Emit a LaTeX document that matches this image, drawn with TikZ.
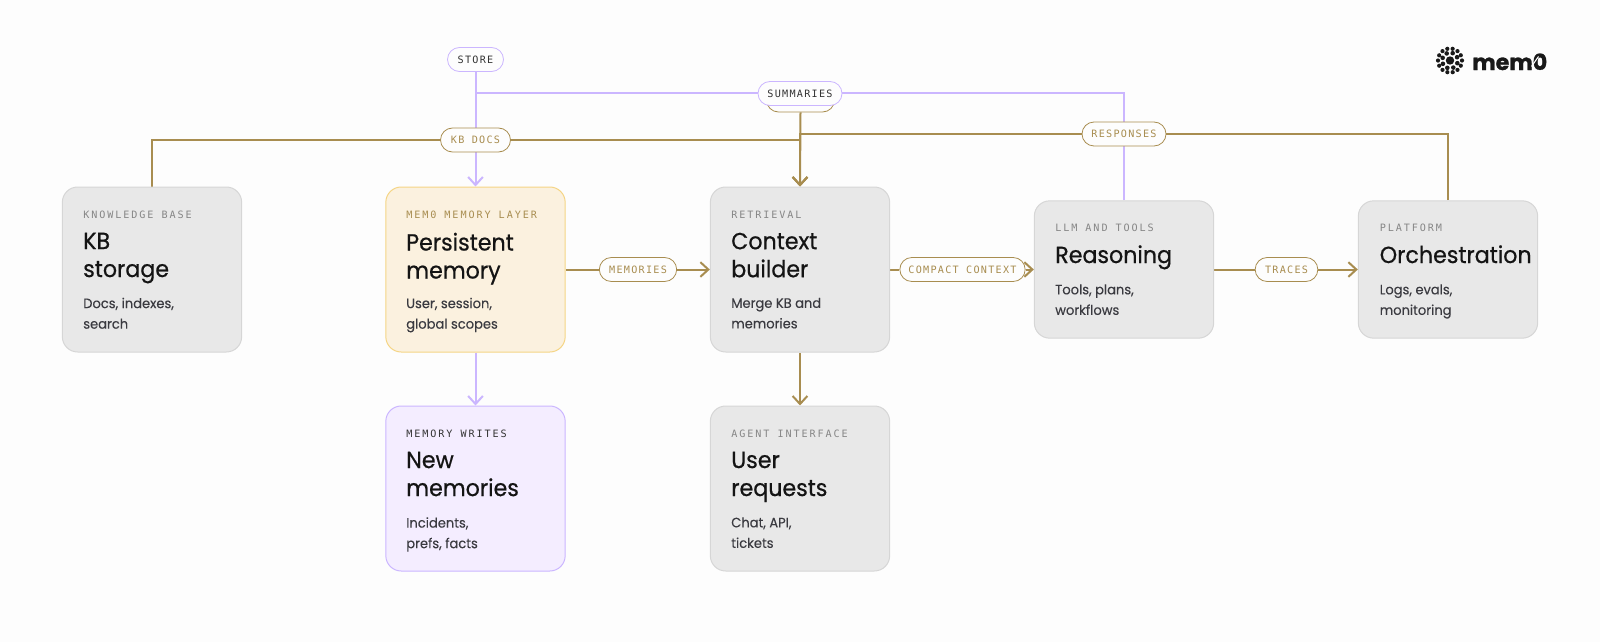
\documentclass[tikz,border=0pt]{standalone}
\usepackage{fontspec}
\setmainfont{Poppins}
\newfontfamily\tagfam{DejaVu Sans Mono}[LetterSpace=19]
\newfontfamily\pillfam{DejaVu Sans Mono}[LetterSpace=12.6]
\newfontfamily\sansfam{Poppins}[FakeStretch=0.96,FakeBold=0.2]
\newfontfamily\headfam{Poppins}[FakeStretch=0.95,FakeBold=0.6]
\newfontfamily\logofam{Poppins}[BoldFeatures={FakeBold=1.2}]
\usetikzlibrary{arrows.meta}
\pgfdeclarelayer{page}
\pgfdeclarelayer{lines}
\pgfsetlayers{page,lines,main}
\definecolor{pagebg}{HTML}{FDFDFD}
\definecolor{flowbrown}{HTML}{A88D50}
\definecolor{flowviolet}{HTML}{CBB6FF}
\definecolor{cardgrey}{HTML}{E8E8E8}
\definecolor{cardline}{HTML}{D6D6D6}
\definecolor{cardyellow}{HTML}{FBF1DF}
\definecolor{lineyellow}{HTML}{F5D585}
\definecolor{cardviolet}{HTML}{F4EDFF}
\definecolor{tagmuted}{HTML}{868686}
\definecolor{subink}{HTML}{3A3A40}
\tikzset{every picture/.style={line width=0.75pt}}
\tikzset{
  card/.style={draw=cardline,fill=cardgrey,rounded corners=11.5pt,minimum width=134.5pt,line width=0.75pt,inner sep=0pt},
  memcard/.style={card,draw=lineyellow,fill=cardyellow},
  writecard/.style={card,draw=flowviolet,fill=cardviolet},
  pill/.style={draw=flowbrown,fill=pagebg,rounded corners=9pt,minimum height=18pt,inner sep=0pt,line width=0.6pt,text=flowbrown,font=\pillfam\fontsize{7.6}{9}\selectfont},
  vpill/.style={pill,draw=flowviolet,text=black!80},
  tag/.style={anchor=base west,inner sep=0pt,text=tagmuted,font=\tagfam\fontsize{7.6}{9}\selectfont},
  head/.style={anchor=north west,inner sep=0pt,align=left,text=black!92,font=\headfam\fontsize{17.5}{21}\selectfont},
  sub/.style={anchor=north west,inner sep=0pt,align=left,text=subink,font=\sansfam\fontsize{10.2}{15.4}\selectfont},
  brownflow/.style={draw=flowbrown,line width=1.5pt},
  violetflow/.style={draw=flowviolet,line width=1.5pt},
  tip/.style={-{Straight Barb[length=6pt,width=11pt,line width=1.5pt]}}
}
\begin{document}
\begin{tikzpicture}[x=0.75pt,y=0.75pt,yscale=-1,xscale=1]
	\useasboundingbox (0,0) rectangle (1600,642);
	\begin{pgfonlayer}{page}
	\fill[pagebg] (0,0) rectangle (1600,642);
	\end{pgfonlayer}
	
	%Shape: cards
	\node [card,minimum height=123.75pt] (kb) at (152,269.5) {};
	\node [memcard,minimum height=123.75pt] (mem) at (475.5,269.5) {};
	\node [card,minimum height=123.75pt] (ctx) at (800,269.5) {};
	\node [card,minimum height=103pt] (llm) at (1124,269.5) {};
	\node [card,minimum height=103pt] (orch) at (1448,269.5) {};
	\node [writecard,minimum height=123.75pt] (writes) at (475.5,488.5) {};
	\node [card,minimum height=123.75pt] (user) at (800,488.5) {};
	
	%Shape: pills
	\node [vpill,minimum width=42pt] (store) at (475.5,59.5) {STORE};
	\node [pill,minimum width=51pt] (hidden) at (800.5,100) {};
	\node [vpill,minimum width=63pt] (summaries) at (800,93.5) {SUMMARIES};
	\node [pill,minimum width=52.5pt] (kbdocs) at (475.5,140) {KB DOCS};
	\node [pill,minimum width=63pt] (responses) at (1124,134) {RESPONSES};
	\node [pill,minimum width=58pt] (memories) at (638,269.5) {MEMORIES};
	\node [pill,minimum width=94pt] (compact) at (962.5,269.5) {COMPACT CONTEXT};
	\node [pill,minimum width=47pt] (traces) at (1286.5,269.5) {TRACES};
	
	\begin{pgfonlayer}{lines}
	%Straight Lines: violet
	\draw [violetflow,tip] (store.south) -- (mem.north);
	\draw [violetflow] (llm.north) |- (summaries.east);
	\draw [violetflow] (summaries.west) -| (store.south);
	\draw [violetflow,tip] (mem.south) -- (writes.north);
	%Straight Lines: brown
	\draw [brownflow] (kb.north) |- (kbdocs.west);
	\draw [brownflow,tip] (kbdocs.east) -| (ctx.north);
	\draw [brownflow,tip] (hidden.south) -- (ctx.north);
	\draw [brownflow] (orch.north) |- (responses.east);
	\draw [brownflow,tip] (responses.west) -| (ctx.north);
	\draw [brownflow] (mem.east) -- (memories.west);
	\draw [brownflow,tip] (memories.east) -- (ctx.west);
	\draw [brownflow] (ctx.east) -- (compact.west);
	\draw [brownflow,tip] (compact.east) -- (llm.west);
	\draw [brownflow] (llm.east) -- (traces.west);
	\draw [brownflow,tip] (traces.east) -- (orch.west);
	\draw [brownflow,tip] (ctx.south) -- (user.north);
	\end{pgfonlayer}
	
	% Text Node
	\node [tag] (kbtag) at (83,218) {KNOWLEDGE BASE};
	\node [head] (kbhead) at (83,232.5) {KB\\storage};
	\node [sub] (kbsub) at (83,297.5) {Docs, indexes,\\search};
	% Text Node
	\node [tag,text=flowbrown] (memtag) at (406,218) {MEM0 MEMORY LAYER};
	\node [head] (memhead) at (406,232.5) {Persistent\\memory};
	\node [sub] (memsub) at (406,297.5) {User, session,\\global scopes};
	% Text Node
	\node [tag] (ctxtag) at (731,218) {RETRIEVAL};
	\node [head] (ctxhead) at (731,232.5) {Context\\builder};
	\node [sub] (ctxsub) at (731,297.5) {Merge KB and\\memories};
	% Text Node
	\node [tag] (llmtag) at (1055,231.5) {LLM AND TOOLS};
	\node [head] (llmhead) at (1055,245) {Reasoning};
	\node [sub] (llmsub) at (1055,284) {Tools, plans,\\workflows};
	% Text Node
	\node [tag] (orchtag) at (1379.5,231.5) {PLATFORM};
	\node [head] (orchhead) at (1379.5,245) {Orchestration};
	\node [sub] (orchsub) at (1379.5,284) {Logs, evals,\\monitoring};
	% Text Node
	\node [tag,text=black!80] (writestag) at (406,437) {MEMORY WRITES};
	\node [head] (writeshead) at (406,451.5) {New\\memories};
	\node [sub] (writessub) at (406,517) {Incidents,\\prefs, facts};
	% Text Node
	\node [tag] (usertag) at (731,437) {AGENT INTERFACE};
	\node [head] (userhead) at (731,451.5) {User\\requests};
	\node [sub] (usersub) at (731,517) {Chat, API,\\tickets};
	
	%Shape: logo
	\fill [black!90] (1450,60.5) circle (4.2);
	\foreach \a in {0,45,...,315} \fill [black!90] (1450,60.5) ++(\a+20:7.8) circle (2.3);
	\foreach \a in {0,25.7,...,340} \fill [black!90] (1450,60.5) ++(\a:12) circle (2.1);
	% Text Node
	\node [anchor=base west,inner sep=0pt,text=black!90,font=\logofam\bfseries\fontsize{16.6}{18}\selectfont] (logotext) at (1472,70) {mem0};
	\draw [pagebg,line width=0.8pt] (1531.5,66.5) -- (1538.5,56.5);
	
\end{tikzpicture}
\end{document}
